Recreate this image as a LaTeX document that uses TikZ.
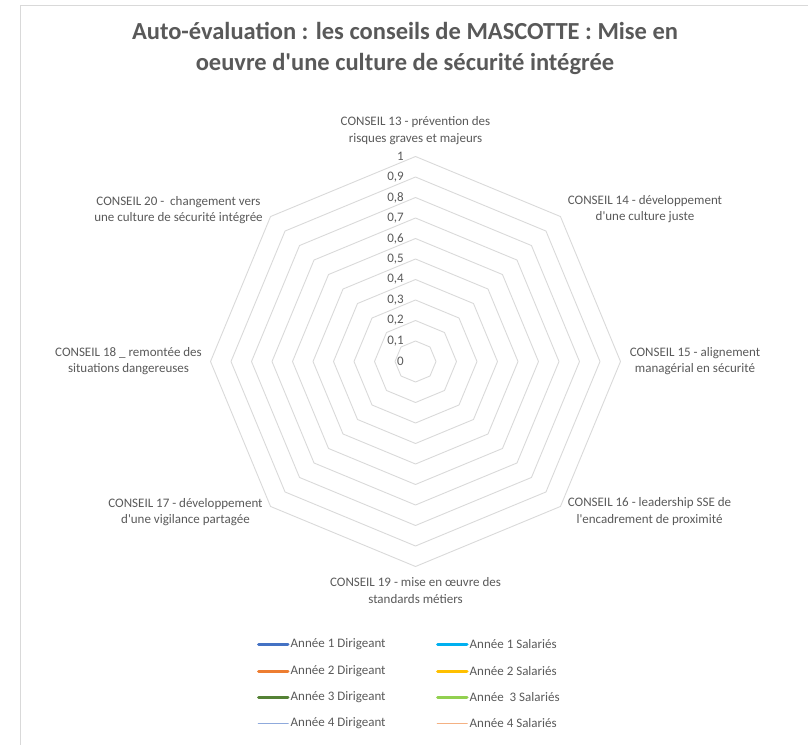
\documentclass[tikz,border=0pt]{standalone}
\usepackage{fontspec}
\setmainfont{Carlito}[Ligatures=TeXOff]
\usetikzlibrary{positioning}

\definecolor{txtgray}{HTML}{595959}
\definecolor{gridgray}{HTML}{D9D9D9}
\definecolor{dirA}{HTML}{4472C4}
\definecolor{dirB}{HTML}{ED7D31}
\definecolor{dirC}{HTML}{548235}
\definecolor{dirD}{HTML}{8FAADC}
\definecolor{salA}{HTML}{00B0F0}
\definecolor{salB}{HTML}{FFC000}
\definecolor{salC}{HTML}{92D050}
\definecolor{salD}{HTML}{F4B183}

\begin{document}
\begin{tikzpicture}[x=1bp, y=-1bp,
        frame/.style={draw=gridgray, line width=1.5bp},
        grid/.style={draw=gridgray, line width=0.9bp, line join=round},
        title/.style={align=center, inner sep=0pt, text=txtgray, font=\fontsize{24.5bp}{31bp}\selectfont\bfseries},
        axislabel/.style={align=center, inner sep=0pt, text=txtgray, font=\fontsize{13bp}{16.5bp}\selectfont},
        ticklabel/.style={anchor=east, inner sep=0pt, text=txtgray, font=\fontsize{13bp}{15bp}\selectfont},
        legendtext/.style={anchor=west, inner sep=0pt, text=txtgray, font=\fontsize{13bp}{15bp}\selectfont},
        key/.style={line width=3bp, line cap=round},
        thinkey/.style={line width=1.7bp, line cap=round},
    ]
    \useasboundingbox (0,0) rectangle (808,745);
    \draw[frame] (808,5.5) -- (20.5,5.5) -- (20.5,745);

    \node[title, anchor=north] (Title) at (405,22) {Auto-évaluation : les conseils de MASCOTTE : Mise en\\oeuvre d'une culture de sécurité intégrée};

    % octagon grid
    \coordinate (Centre) at (415.5,361.5);
    \begin{scope}[shift={(Centre)}]
        \foreach \k in {1,...,10} {
            \pgfmathsetmacro\r{20.5*\k}
            \draw[grid] (0:\r) \foreach \a in {45,90,...,315} { -- (\a:\r) } -- cycle;
        }
    \end{scope}
    \foreach \k/\v in {0/0, 1/{0,1}, 2/{0,2}, 3/{0,3}, 4/{0,4}, 5/{0,5}, 6/{0,6}, 7/{0,7}, 8/{0,8}, 9/{0,9}, 10/1}
        \node[ticklabel] (T\k) at (404,{361.5-20.5*\k}) {\v};

    \node[axislabel] (C13) at (415.5,130.5) {CONSEIL 13 - prévention des\\risques graves et majeurs};
    \node[axislabel] (C14) at (645,209) {CONSEIL 14 - développement\\d'une culture juste};
    \node[axislabel] (C15) at (695,361) {CONSEIL 15 - alignement\\managérial en sécurité};
    \node[axislabel] (C16) at (649.5,511.5) {CONSEIL 16 - leadership SSE de\\l'encadrement de proximité};
    \node[axislabel] (C19) at (415.5,590.5) {CONSEIL 19 - mise en œuvre des\\standards métiers};
    \node[axislabel] (C17) at (185.5,512) {CONSEIL 17 - développement\\d'une vigilance partagée};
    \node[axislabel] (C18) at (128.5,361) {CONSEIL 18 \_ remontée des\\situations dangereuses};
    \node[axislabel] (C20) at (178.5,210) {CONSEIL 20 -\ \ changement vers\\une culture de sécurité intégrée};

    % legend
    \node[legendtext] (D1) at (290.5,644.5) {Année 1 Dirigeant};
    \node[legendtext] (D2) at (290.5,671) {Année 2 Dirigeant};
    \node[legendtext] (D3) at (290.5,697.5) {Année 3 Dirigeant};
    \node[legendtext] (D4) at (290.5,723.5) {Année 4 Dirigeant};
    \node[legendtext] (S1) at (469.5,644.5) {Année 1 Salariés};
    \node[legendtext] (S2) at (469.5,671) {Année 2 Salariés};
    \node[legendtext] (S3) at (469.5,697.5) {Année\ \ 3 Salariés};
    \node[legendtext] (S4) at (469.5,723.5) {Année 4 Salariés};

    \draw[key, draw=dirA] ([xshift=-32bp]D1.west) -- ([xshift=-2.5bp]D1.west);
    \draw[key, draw=dirB] ([xshift=-32bp]D2.west) -- ([xshift=-2.5bp]D2.west);
    \draw[key, draw=dirC] ([xshift=-32bp]D3.west) -- ([xshift=-2.5bp]D3.west);
    \draw[thinkey, draw=dirD] ([xshift=-32bp]D4.west) -- ([xshift=-2.5bp]D4.west);
    \draw[key, draw=salA] ([xshift=-32bp]S1.west) -- ([xshift=-2.5bp]S1.west);
    \draw[key, draw=salB] ([xshift=-32bp]S2.west) -- ([xshift=-2.5bp]S2.west);
    \draw[key, draw=salC] ([xshift=-32bp]S3.west) -- ([xshift=-2.5bp]S3.west);
    \draw[thinkey, draw=salD] ([xshift=-32bp]S4.west) -- ([xshift=-2.5bp]S4.west);
\end{tikzpicture}
\end{document}
